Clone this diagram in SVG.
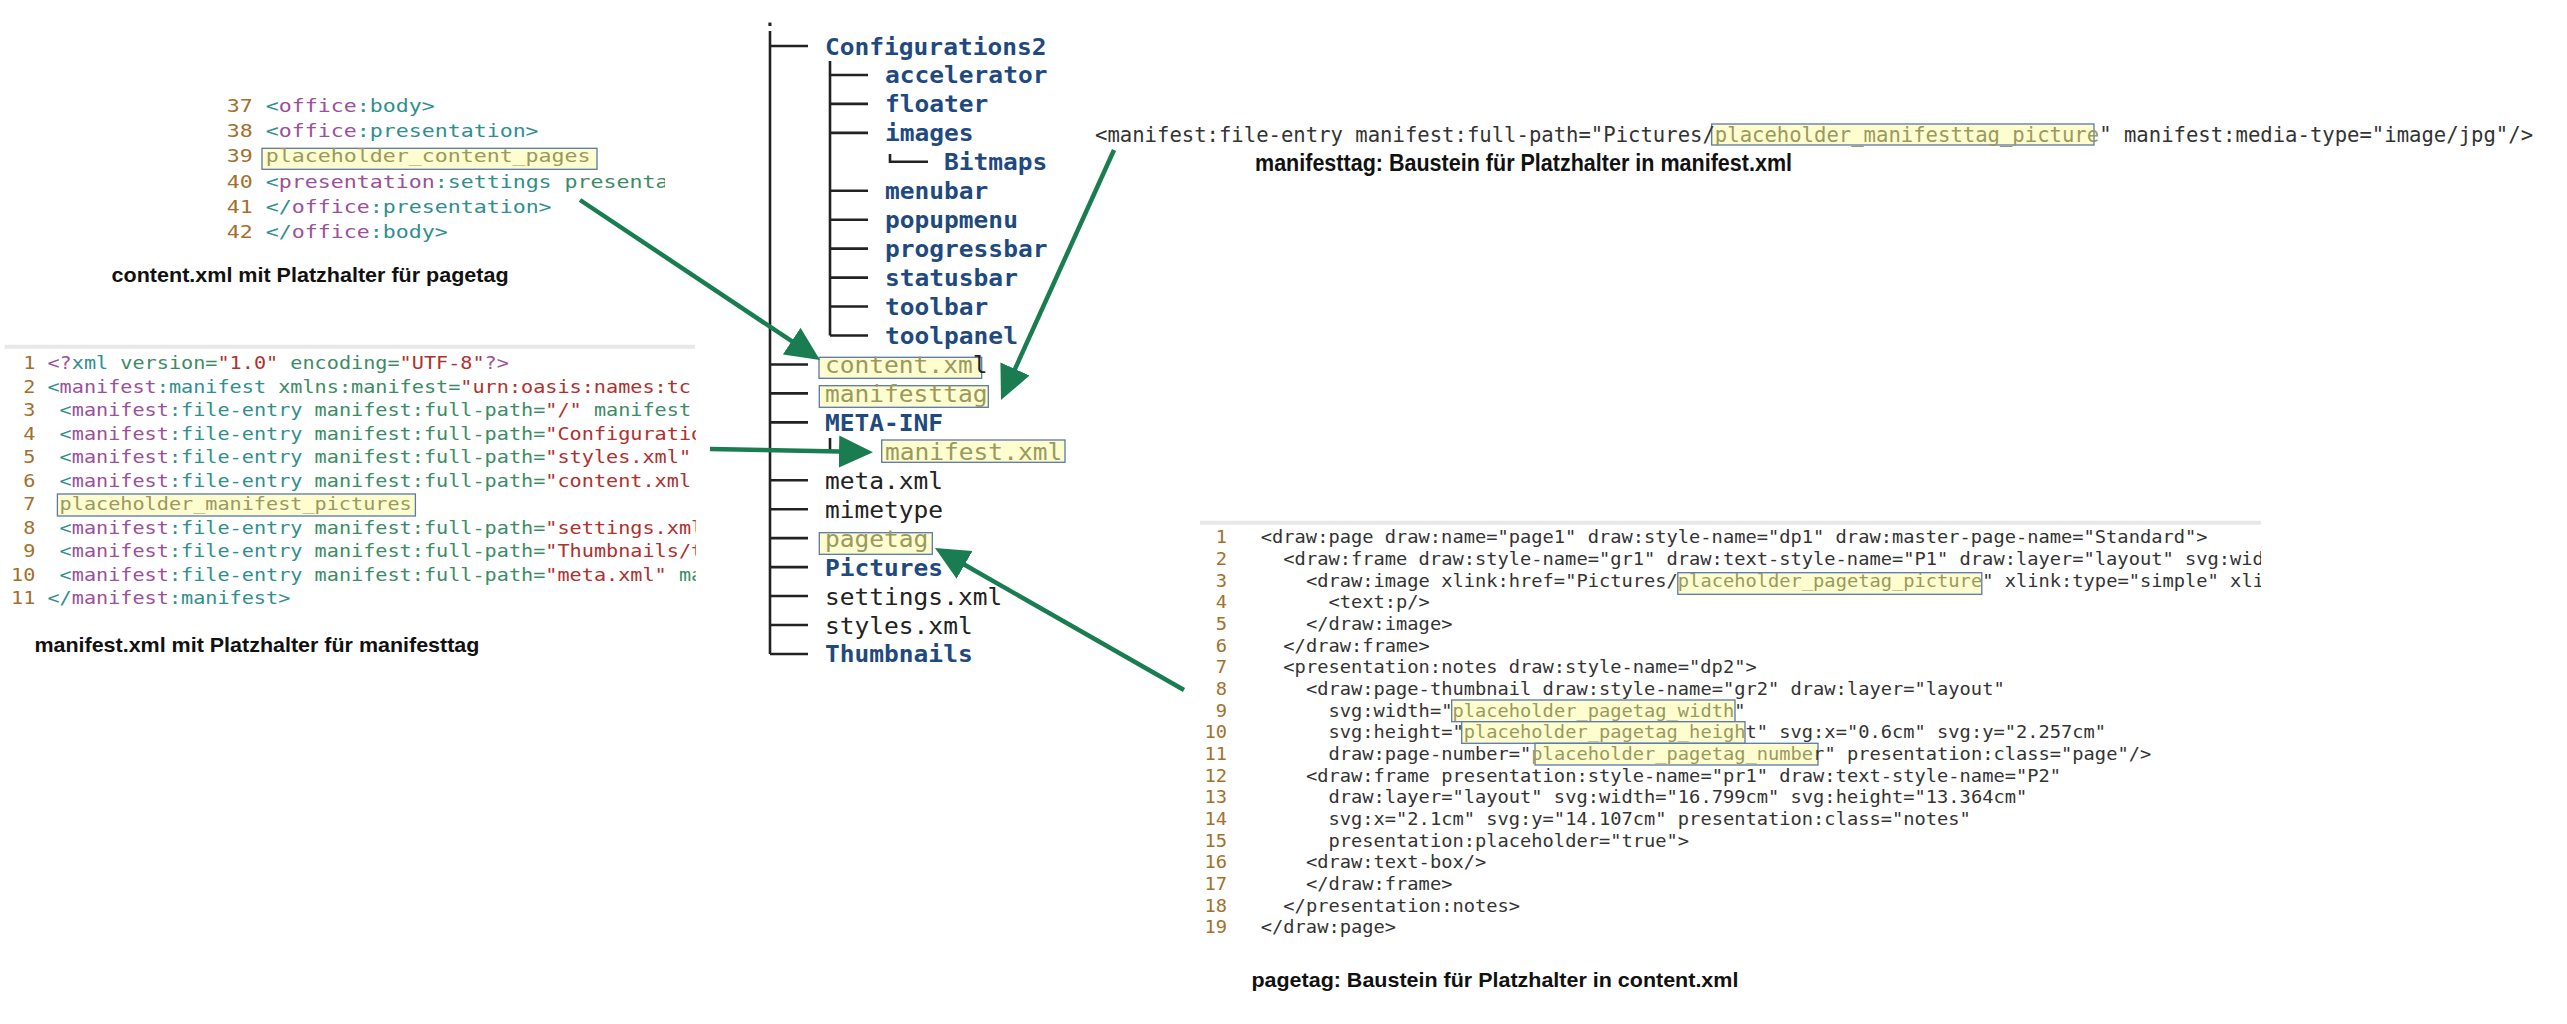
<svg xmlns="http://www.w3.org/2000/svg" width="2567" height="1024" viewBox="0 0 2567 1024">
<style>
.mono{font-family:"DejaVu Sans Mono","Liberation Mono",monospace;}
.cap{font-family:"Liberation Sans",Arial,sans-serif;font-weight:bold;fill:#111;}
.ln{fill:#a3702c;}
.num{fill:#a3702c;text-anchor:end;}
.pr{fill:#9c4f9c;}
.el{fill:#2f8f8f;}
.at{fill:#3b8c66;}
.st{fill:#b0302e;}
.ph{fill:#9a995e;}
.dk{fill:#333;}
.hl{fill:#fdfdd0;stroke:#5a78aa;stroke-width:1.3;}
.tb{fill:#1f4a80;font-weight:bold;}
.tr{fill:#222;}
.tl{stroke:#222;stroke-width:2.6;fill:none;}
.rule{stroke:#e8e8e8;stroke-width:4;}
.conn{stroke:#1a7d51;stroke-width:4.5;fill:none;marker-end:url(#ah);}
</style>
<defs>
<marker id="ah" markerUnits="userSpaceOnUse" viewBox="0 -17 36 34" markerWidth="36" markerHeight="34" refX="1" refY="0" orient="auto"><path d="M0,-16 L34,0 L0,16 Z" fill="#1a7d51"/></marker>
<clipPath id="clipC"><rect x="0" y="80" width="665" height="180"/></clipPath>
<clipPath id="clipM"><rect x="0" y="350" width="695.8" height="265"/></clipPath>
<clipPath id="clipP"><rect x="1190" y="525" width="1071" height="420"/></clipPath>
</defs>
<rect x="0" y="0" width="2567" height="1024" fill="#ffffff"/>

<g id="content-xml">
<rect class="hl" x="262" y="148.3" width="335" height="21"/>
<g clip-path="url(#clipC)">
<g class="mono" font-size="18.3" transform="translate(226.8 0) scale(1.18 1)">
<text y="111.7"><tspan class="ln">37</tspan> <tspan class="el">&lt;</tspan><tspan class="pr">office</tspan><tspan class="el">:body&gt;</tspan></text>
<text y="137"><tspan class="ln">38</tspan> <tspan class="el">&lt;</tspan><tspan class="pr">office</tspan><tspan class="el">:presentation&gt;</tspan></text>
<text y="162.3"><tspan class="ln">39</tspan> <tspan class="ph">placeholder_content_pages</tspan></text>
<text y="187.6"><tspan class="ln">40</tspan> <tspan class="el">&lt;</tspan><tspan class="pr">presentation</tspan><tspan class="el">:settings</tspan><tspan class="at"> presenta</tspan></text>
<text y="212.9"><tspan class="ln">41</tspan> <tspan class="el">&lt;/</tspan><tspan class="pr">office</tspan><tspan class="el">:presentation&gt;</tspan></text>
<text y="238.2"><tspan class="ln">42</tspan> <tspan class="el">&lt;/</tspan><tspan class="pr">office</tspan><tspan class="el">:body&gt;</tspan></text>
</g>
</g>
<text class="cap" x="111.6" y="281.7" font-size="21" textLength="397" lengthAdjust="spacingAndGlyphs">content.xml mit Platzhalter für pagetag</text>
</g>

<g id="manifest-xml">
<line class="rule" x1="4.6" y1="346.7" x2="695" y2="346.7"/>
<rect class="hl" x="57.4" y="494" width="358" height="22"/>
<g clip-path="url(#clipM)">
<g class="mono" font-size="17.4" transform="translate(11 0) scale(1.16 1)">
<text class="num" x="20.95" y="369.3">1</text>
<text class="num" x="20.95" y="392.8">2</text>
<text class="num" x="20.95" y="416.3">3</text>
<text class="num" x="20.95" y="439.8">4</text>
<text class="num" x="20.95" y="463.3">5</text>
<text class="num" x="20.95" y="486.8">6</text>
<text class="num" x="20.95" y="510.3">7</text>
<text class="num" x="20.95" y="533.8">8</text>
<text class="num" x="20.95" y="557.3">9</text>
<text class="num" x="20.95" y="580.8">10</text>
<text class="num" x="20.95" y="604.3">11</text>
<text x="31.43" y="369.3"><tspan class="pr">&lt;?</tspan><tspan class="el">xml</tspan><tspan class="at"> version=</tspan><tspan class="st">"1.0"</tspan><tspan class="at"> encoding=</tspan><tspan class="st">"UTF-8"</tspan><tspan class="pr">?&gt;</tspan></text>
<text x="31.43" y="392.8"><tspan class="el">&lt;</tspan><tspan class="pr">manifest</tspan><tspan class="el">:manifest</tspan><tspan class="at"> xmlns:manifest=</tspan><tspan class="st">"urn:oasis:names:tc</tspan></text>
<text x="41.9" y="416.3"><tspan class="el">&lt;</tspan><tspan class="pr">manifest</tspan><tspan class="el">:file-entry</tspan><tspan class="at"> manifest:full-path=</tspan><tspan class="st">"/"</tspan><tspan class="at"> manifest</tspan></text>
<text x="41.9" y="439.8"><tspan class="el">&lt;</tspan><tspan class="pr">manifest</tspan><tspan class="el">:file-entry</tspan><tspan class="at"> manifest:full-path=</tspan><tspan class="st">"Configuratio</tspan></text>
<text x="41.9" y="463.3"><tspan class="el">&lt;</tspan><tspan class="pr">manifest</tspan><tspan class="el">:file-entry</tspan><tspan class="at"> manifest:full-path=</tspan><tspan class="st">"styles.xml"</tspan></text>
<text x="41.9" y="486.8"><tspan class="el">&lt;</tspan><tspan class="pr">manifest</tspan><tspan class="el">:file-entry</tspan><tspan class="at"> manifest:full-path=</tspan><tspan class="st">"content.xml</tspan></text>
<text x="41.9" y="510.3" class="ph">placeholder_manifest_pictures</text>
<text x="41.9" y="533.8"><tspan class="el">&lt;</tspan><tspan class="pr">manifest</tspan><tspan class="el">:file-entry</tspan><tspan class="at"> manifest:full-path=</tspan><tspan class="st">"settings.xml</tspan></text>
<text x="41.9" y="557.3"><tspan class="el">&lt;</tspan><tspan class="pr">manifest</tspan><tspan class="el">:file-entry</tspan><tspan class="at"> manifest:full-path=</tspan><tspan class="st">"Thumbnails/t</tspan></text>
<text x="41.9" y="580.8"><tspan class="el">&lt;</tspan><tspan class="pr">manifest</tspan><tspan class="el">:file-entry</tspan><tspan class="at"> manifest:full-path=</tspan><tspan class="st">"meta.xml"</tspan><tspan class="at"> ma</tspan></text>
<text x="31.43" y="604.3"><tspan class="el">&lt;/</tspan><tspan class="pr">manifest</tspan><tspan class="el">:manifest&gt;</tspan></text>
</g>
</g>
<text class="cap" x="34.4" y="651.7" font-size="21" textLength="445" lengthAdjust="spacingAndGlyphs">manifest.xml mit Platzhalter für manifesttag</text>
</g>

<g id="tree" class="mono" font-size="23">
<g id="tree-lines">
<path class="tl" d="M770,31 V654"/>
<path class="tl" d="M770,46 H808 M770,364.45 H808 M770,393.4 H808 M770,422.35 H808 M770,480.25 H808 M770,509.2 H808 M770,538.15 H808 M770,567.1 H808 M770,596.05 H808 M770,625 H808 M770,653.95 H808"/>
<path class="tl" d="M830,61 V335.5 M830,74.95 H868 M830,103.9 H868 M830,132.85 H868 M830,190.75 H868 M830,219.7 H868 M830,248.65 H868 M830,277.6 H868 M830,306.55 H868 M830,335.5 H868"/>
<path class="tl" d="M890,154 V161.8 H928"/>
<path class="tl" d="M830,438 V451.3 H868"/>
</g>
<text class="tr" transform="translate(762.6 26) scale(1.0675 1)">.</text>
<g id="n-configurations2"><text class="tb" transform="translate(825 54.5) scale(1.0675 1)">Configurations2</text></g>
<g id="n-accelerator"><text class="tb" transform="translate(885 83.45) scale(1.0675 1)">accelerator</text></g>
<g id="n-floater"><text class="tb" transform="translate(885 112.4) scale(1.0675 1)">floater</text></g>
<g id="n-images"><text class="tb" transform="translate(885 141.35) scale(1.0675 1)">images</text></g>
<g id="n-bitmaps"><text class="tb" transform="translate(944 170.3) scale(1.0675 1)">Bitmaps</text></g>
<g id="n-menubar"><text class="tb" transform="translate(885 199.25) scale(1.0675 1)">menubar</text></g>
<g id="n-popupmenu"><text class="tb" transform="translate(885 228.2) scale(1.0675 1)">popupmenu</text></g>
<g id="n-progressbar"><text class="tb" transform="translate(885 257.15) scale(1.0675 1)">progressbar</text></g>
<g id="n-statusbar"><text class="tb" transform="translate(885 286.1) scale(1.0675 1)">statusbar</text></g>
<g id="n-toolbar"><text class="tb" transform="translate(885 315.05) scale(1.0675 1)">toolbar</text></g>
<g id="n-toolpanel"><text class="tb" transform="translate(885 344) scale(1.0675 1)">toolpanel</text></g>
<g id="n-content"><rect class="hl" x="819" y="357.3" width="162.7" height="21"/><text transform="translate(825 372.95) scale(1.0675 1)"><tspan class="ph">content.xm</tspan><tspan class="tr">l</tspan></text></g>
<g id="n-manifesttag"><rect class="hl" x="819.3" y="385.7" width="169" height="21.6"/><text class="ph" transform="translate(825 401.9) scale(1.0675 1)">manifesttag</text></g>
<g id="n-meta-inf"><text class="tb" transform="translate(825 430.85) scale(1.0675 1)">META-INF</text></g>
<g id="n-manifest"><rect class="hl" x="881.7" y="440" width="183.3" height="22.3"/><text class="ph" transform="translate(885 459.8) scale(1.0675 1)">manifest.xml</text></g>
<g id="n-meta"><text class="tr" transform="translate(825 488.75) scale(1.0675 1)">meta.xml</text></g>
<g id="n-mimetype"><text class="tr" transform="translate(825 517.7) scale(1.0675 1)">mimetype</text></g>
<g id="n-pagetag"><rect class="hl" x="819.3" y="532.7" width="113" height="21.6"/><text class="ph" transform="translate(825 546.65) scale(1.0675 1)">pagetag</text></g>
<g id="n-pictures"><text class="tb" transform="translate(825 575.6) scale(1.0675 1)">Pictures</text></g>
<g id="n-settings"><text class="tr" transform="translate(825 604.55) scale(1.0675 1)">settings.xml</text></g>
<g id="n-styles"><text class="tr" transform="translate(825 633.5) scale(1.0675 1)">styles.xml</text></g>
<g id="n-thumbnails"><text class="tb" transform="translate(825 662.45) scale(1.0675 1)">Thumbnails</text></g>
</g>

<g id="manifesttag-snippet">
<rect class="hl" x="1711.7" y="124" width="382.3" height="21"/>
<text class="mono" font-size="21.5" transform="translate(1095 142.3) scale(0.958 1)"><tspan class="dk">&lt;manifest:file-entry manifest:full-path="Pictures/</tspan><tspan class="ph">placeholder_manifesttag_picture</tspan><tspan class="dk">" manifest:media-type="image/jpg"/&gt;</tspan></text>
<text class="cap" x="1255" y="171" font-size="23" textLength="537" lengthAdjust="spacingAndGlyphs">manifesttag: Baustein für Platzhalter in manifest.xml</text>
</g>

<g id="pagetag-snippet">
<line class="rule" x1="1200" y1="522.7" x2="2261" y2="522.7"/>
<rect class="hl" x="1677.8" y="572.7" width="304" height="21.6"/>
<rect class="hl" x="1451.7" y="700" width="283.3" height="21.7"/>
<rect class="hl" x="1461.7" y="721.7" width="283.3" height="21.6"/>
<rect class="hl" x="1535" y="743.3" width="283" height="21.7"/>
<g clip-path="url(#clipP)">
<g class="mono dk" font-size="17" transform="translate(1204.4 0) scale(1.102 1)">
<text class="num" x="20.47" y="543.3">1</text>
<text class="num" x="20.47" y="564.97">2</text>
<text class="num" x="20.47" y="586.64">3</text>
<text class="num" x="20.47" y="608.31">4</text>
<text class="num" x="20.47" y="629.98">5</text>
<text class="num" x="20.47" y="651.65">6</text>
<text class="num" x="20.47" y="673.32">7</text>
<text class="num" x="20.47" y="694.99">8</text>
<text class="num" x="20.47" y="716.66">9</text>
<text class="num" x="20.47" y="738.33">10</text>
<text class="num" x="20.47" y="760">11</text>
<text class="num" x="20.47" y="781.67">12</text>
<text class="num" x="20.47" y="803.34">13</text>
<text class="num" x="20.47" y="825.01">14</text>
<text class="num" x="20.47" y="846.68">15</text>
<text class="num" x="20.47" y="868.35">16</text>
<text class="num" x="20.47" y="890.02">17</text>
<text class="num" x="20.47" y="911.69">18</text>
<text class="num" x="20.47" y="933.36">19</text>
<text x="51.175" y="543.3">&lt;draw:page draw:name="page1" draw:style-name="dp1" draw:master-page-name="Standard"&gt;</text>
<text x="71.645" y="564.97">&lt;draw:frame draw:style-name="gr1" draw:text-style-name="P1" draw:layer="layout" svg:wid</text>
<text x="92.115" y="586.64">&lt;draw:image xlink:href="Pictures/<tspan class="ph">placeholder_pagetag_picture</tspan>" xlink:type="simple" xli</text>
<text x="112.585" y="608.31">&lt;text:p/&gt;</text>
<text x="92.115" y="629.98">&lt;/draw:image&gt;</text>
<text x="71.645" y="651.65">&lt;/draw:frame&gt;</text>
<text x="71.645" y="673.32">&lt;presentation:notes draw:style-name="dp2"&gt;</text>
<text x="92.115" y="694.99">&lt;draw:page-thumbnail draw:style-name="gr2" draw:layer="layout"</text>
<text x="112.585" y="716.66">svg:width="<tspan class="ph">placeholder_pagetag_width</tspan>"</text>
<text x="112.585" y="738.33">svg:height="<tspan class="ph">placeholder_pagetag_heigh</tspan>t" svg:x="0.6cm" svg:y="2.257cm"</text>
<text x="112.585" y="760">draw:page-number="<tspan class="ph">placeholder_pagetag_numbe</tspan>r" presentation:class="page"/&gt;</text>
<text x="92.115" y="781.67">&lt;draw:frame presentation:style-name="pr1" draw:text-style-name="P2"</text>
<text x="112.585" y="803.34">draw:layer="layout" svg:width="16.799cm" svg:height="13.364cm"</text>
<text x="112.585" y="825.01">svg:x="2.1cm" svg:y="14.107cm" presentation:class="notes"</text>
<text x="112.585" y="846.68">presentation:placeholder="true"&gt;</text>
<text x="92.115" y="868.35">&lt;draw:text-box/&gt;</text>
<text x="92.115" y="890.02">&lt;/draw:frame&gt;</text>
<text x="71.645" y="911.69">&lt;/presentation:notes&gt;</text>
<text x="51.175" y="933.36">&lt;/draw:page&gt;</text>
</g>
</g>
<text class="cap" x="1251.4" y="986.7" font-size="21" textLength="487" lengthAdjust="spacingAndGlyphs">pagetag: Baustein für Platzhalter in content.xml</text>
</g>

<g id="connectors">
<path class="conn" d="M580,200 L792.5,341.7"/>
<path class="conn" d="M1114,150 L1014.6,369.9"/>
<path class="conn" d="M710,449 L840,451.6"/>
<path class="conn" d="M1184,690 L963.7,564.3"/>
</g>
</svg>
